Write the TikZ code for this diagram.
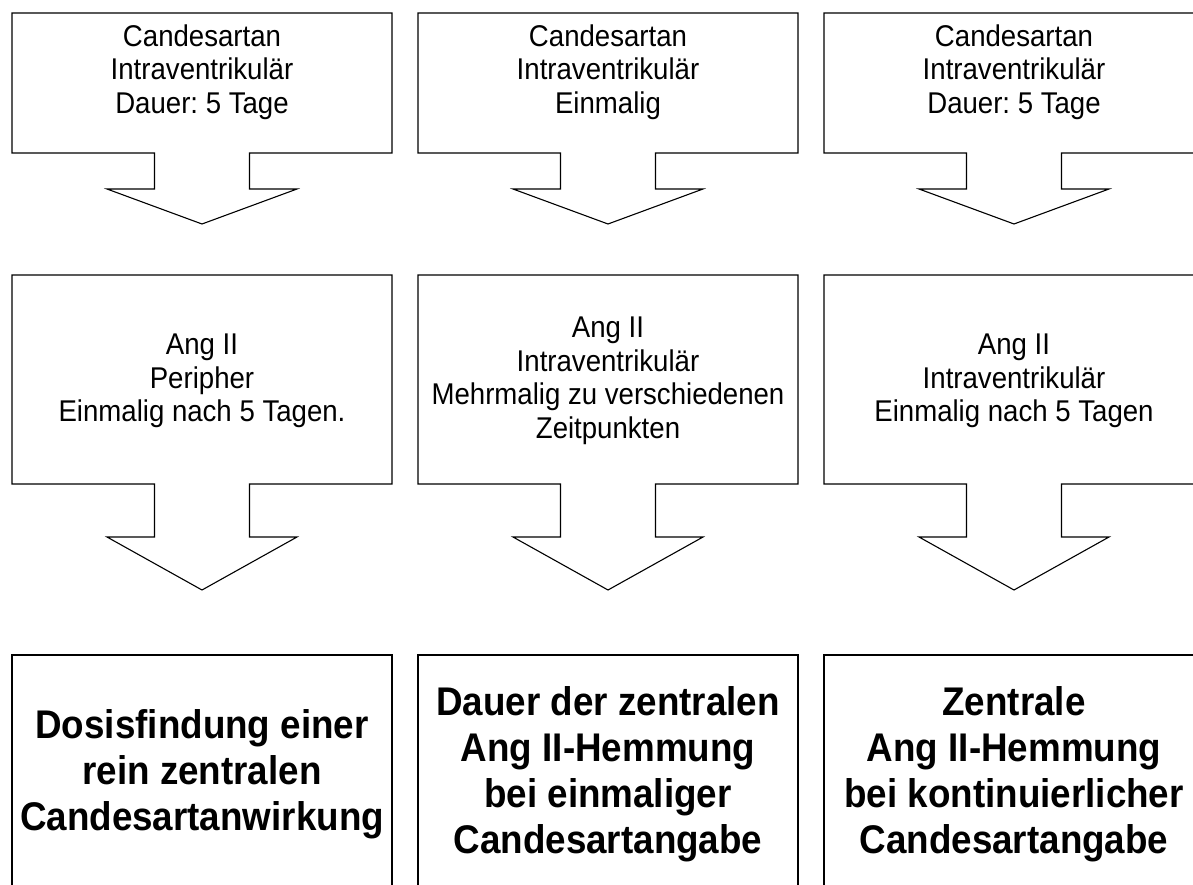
\documentclass[tikz,border=0pt]{standalone}
\usepackage{fontspec}
\setmainfont{Liberation Sans}
\newfontfamily\narrowfont[FakeStretch=0.92]{Liberation Sans}
\usepackage{tikz}
\usetikzlibrary{positioning}
\frenchspacing
\newcommand{\regsize}{\narrowfont\fontsize{30}{33.5}\selectfont}
\newcommand{\boldsize}{\narrowfont\fontsize{40}{46}\selectfont\bfseries}
% outline of a box with a down arrow: centre x, top, bottom, head base, tip
\newcommand{\downcallout}[5]{%
  \draw[callout] (#1-190,#2) -- (#1+190,#2) -- (#1+190,#3) -- (#1+47.5,#3)
    -- (#1+47.5,#4) -- (#1+95,#4) -- (#1,#5) -- (#1-95,#4) -- (#1-47.5,#4)
    -- (#1-47.5,#3) -- (#1-190,#3) -- cycle;}
\tikzstyle{callout}=[draw, line width=1.1pt, fill=white]
\tikzstyle{result}=[draw, line width=1.1pt]
\tikzstyle{plain}=[align=center, inner sep=0pt, font=\regsize]
\tikzstyle{goal}=[align=center, inner sep=0pt, font=\boldsize]

\begin{document}
\begin{tikzpicture}[x=1pt, y=-1pt]
    \useasboundingbox (0,0) rectangle (1193,885);
    \clip (0,0) rectangle (1193,885);
    % first row: candesartan
    \downcallout{202}{13}{153}{189}{224}
    \downcallout{608}{13}{153}{189}{224}
    \downcallout{1014}{13}{153}{189}{224}
    \node (cand1) [plain] at (202,72) {Candesartan\\Intraventrikulär\\Dauer: 5 Tage};
    \node (cand2) [plain] at (608,72) {Candesartan\\Intraventrikulär\\Einmalig};
    \node (cand3) [plain] at (1014,72) {Candesartan\\Intraventrikulär\\Dauer: 5 Tage};
    %
    % second row: ang II
    \downcallout{202}{275}{484}{537}{590}
    \downcallout{608}{275}{484}{537}{590}
    \downcallout{1014}{275}{484}{537}{590}
    \node (ang1) [plain] at (202,381) {Ang II\\Peripher\\Einmalig nach 5 Tagen.};
    \node (ang2) [plain] at (608,381) {Ang II\\Intraventrikulär\\Mehrmalig zu verschiedenen\\Zeitpunkten};
    \node (ang3) [plain] at (1014,381) {Ang II\\Intraventrikulär\\Einmalig nach 5 Tagen};
    %
    % third row: aims
    \draw [result] (12,900) -- (12,655) -- (392,655) -- (392,900);
    \draw [result] (418,900) -- (418,655) -- (798,655) -- (798,900);
    \draw [result] (824,900) -- (824,655) -- (1204,655) -- (1204,900);
    \node (aim1) [goal] at (202,774) {Dosisfindung einer\\rein zentralen\\Candesartanwirkung};
    \node (aim2) [goal] at (608,774) {Dauer der zentralen\\Ang II-Hemmung\\bei einmaliger\\Candesartangabe};
    \node (aim3) [goal] at (1014,774) {Zentrale\\Ang II-Hemmung\\bei kontinuierlicher\\Candesartangabe};
\end{tikzpicture}
\end{document}
